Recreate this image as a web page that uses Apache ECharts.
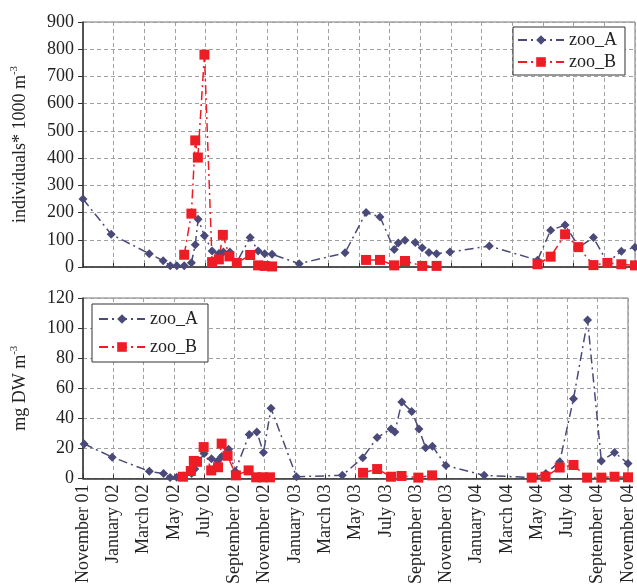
<!DOCTYPE html>
<html lang="en">
<head>
    <meta charset="UTF-8">
    <title>zoo_A / zoo_B</title>
    <script src="https://cdn.jsdelivr.net/npm/echarts/dist/echarts.min.js"></script>
    <style>
        body { margin: 0; padding: 0; background: #ffffff; }
        #chart { width: 637px; height: 587px; }
    </style>
</head>
<body>
    <div id="chart"></div>
    <script>
        // x positions are months counted from November 2001
        const xTickLabels = [
            'November 01', 'January 02', 'March 02', 'May 02', 'July 02', 'September 02',
            'November 02', 'January 03', 'March 03', 'May 03', 'July 03', 'September 03',
            'November 03', 'January 04', 'March 04', 'May 04', 'July 04', 'September 04', 'November 04'
        ];

        // top panel: individuals* 1000 m-3
        const topAMonths = [0, 1.84, 4.32, 5.23, 5.69, 6.12, 6.6, 7.07, 7.32, 7.51, 7.92, 8.42, 8.86, 9.16, 9.58, 10.03,
            10.9, 11.42, 11.85, 12.33, 14.1, 17.09, 18.46, 19.37, 20.3, 20.56, 21.0, 21.67, 22.12, 22.56, 23.06, 23.93,
            26.5, 29.64, 30.5, 31.44, 32.35, 33.29, 34.2, 35.11, 36];
        const topAValues = [250, 120, 49, 23, 5, 5, 5, 16, 82, 175, 115, 59, 50, 55, 55, 18,
            108, 59, 49, 47, 12, 52, 200, 184, 64, 88, 98, 90, 71, 53, 49, 55,
            77, 25, 135, 154, 73, 108, 16, 58, 73];

        const topBMonths = [6.6, 7.07, 7.32, 7.49, 7.92, 8.42, 8.86, 9.12, 9.55, 10.03, 10.9, 11.42, 11.85, 12.33,
            15, 18.46, 19.37, 20.3, 21.0, 22.12, 23.06,
            26, 29.64, 30.5, 31.44, 32.3, 33.29, 34.2, 35.11, 36];
        const topBValues = [45, 196, 465, 402, 780, 18, 28, 118, 39, 15, 44, 6, 4, 2,
            null, 26, 26, 6, 22, 4, 4,
            null, 10, 38, 120, 73, 7, 15, 10, 6];

        // bottom panel: mg DW m-3
        const botAMonths = [0.08, 1.93, 4.38, 5.32, 5.75, 6.19, 6.66, 7.17, 7.38, 8.0, 8.49, 8.9, 9.16, 9.62, 10.05,
            10.98, 11.48, 11.92, 12.42, 14.1, 17.13, 18.48, 19.43, 20.35, 20.6, 21.06, 21.71, 22.19, 22.63, 23.08, 23.97,
            26.5, 29.68, 30.57, 31.49, 32.4, 33.33, 34.24, 35.11, 36];
        const botAValues = [23, 14.2, 4.8, 3.3, 0.6, 0.8, 1.7, 3.3, 6.3, 16.7, 13.2, 11.7, 14.6, 19.5, 4.8,
            29.3, 31, 17.3, 46.7, 1.2, 2.1, 13.8, 27.2, 33, 31, 50.9, 44.6, 33, 20.5, 21.5, 8.6,
            2.1, 0.6, 3.3, 11.1, 53, 105.3, 11.7, 17.3, 10];

        const botBMonths = [6.6, 7.12, 7.32, 7.53, 7.97, 8.47, 8.92, 9.16, 9.55, 10.1, 10.94, 11.44, 11.88, 12.35,
            15, 18.5, 19.43, 20.35, 21.04, 22.15, 23.06,
            26, 29.64, 30.55, 31.49, 32.4, 33.3, 34.24, 35.11, 36];
        const botBValues = [1.2, 5, 11.7, 11.1, 20.9, 5.4, 7.5, 23.2, 15.1, 2.1, 5.4, 0.8, 0.8, 0.8,
            null, 3.8, 6.3, 1.2, 1.7, 0.6, 2.1,
            null, 0.6, 1.2, 7.3, 9, 0.6, 0.6, 1.2, 0.8];

        const colorA = '#4a4a7a';
        const colorB = '#ee1c25';
        const dashDot = [9, 4, 2, 4];
        const font = '"Liberation Serif", "Times New Roman", serif';

        function pairs(xs, ys) {
            return xs.map((x, i) => [x, ys[i] === null ? '-' : ys[i]]);
        }

        function xAxisFor(gridIndex, showLabels) {
            return {
                type: 'value',
                gridIndex: gridIndex,
                min: 0,
                max: 36,
                interval: 2,
                axisLine: { show: true, lineStyle: { color: '#333', width: 1.5 } },
                axisTick: { show: true, inside: true, length: 4, lineStyle: { color: '#333' } },
                splitLine: { show: true, lineStyle: { color: '#a0a0a0', type: [4, 3] } },
                axisLabel: {
                    show: showLabels,
                    rotate: 90,
                    margin: 6,
                    fontFamily: font,
                    fontSize: 18,
                    color: '#222',
                    showMinLabel: true,
                    showMaxLabel: true,
                    hideOverlap: false,
                    formatter: function (v) { return xTickLabels[Math.round(v / 2)]; }
                }
            };
        }

        function yAxisFor(gridIndex, max, interval, nameMain) {
            return {
                type: 'value',
                gridIndex: gridIndex,
                min: 0,
                max: max,
                interval: interval,
                name: '{a|' + nameMain + '}{s|-3}',
                nameLocation: 'middle',
                nameRotate: 90,
                nameGap: 52,
                nameTextStyle: {
                    rich: {
                        a: { fontFamily: font, fontSize: 18, color: '#222', lineHeight: 22 },
                        s: { fontFamily: font, fontSize: 11, color: '#222', lineHeight: 11, verticalAlign: 'top' }
                    }
                },
                axisLine: { show: true, lineStyle: { color: '#333', width: 1.5 } },
                axisTick: { show: true, length: 5, lineStyle: { color: '#333' } },
                splitLine: { show: true, lineStyle: { color: '#a0a0a0', type: [4, 3] } },
                axisLabel: { fontFamily: font, fontSize: 18, color: '#222', margin: 9 }
            };
        }

        function lineSeries(name, idx, data, color, symbol, size) {
            return {
                name: name,
                type: 'line',
                xAxisIndex: idx,
                yAxisIndex: idx,
                data: data,
                symbol: symbol,
                symbolSize: size,
                connectNulls: false,
                itemStyle: { color: color },
                lineStyle: { color: color, width: 1.5, type: dashDot },
                animation: false
            };
        }

        const chart = echarts.init(document.getElementById('chart'));
        chart.setOption({
            backgroundColor: '#ffffff',
            animation: false,
            grid: [
                { left: 83, right: 2, top: 22, height: 245, show: true, borderColor: '#777', borderWidth: 1 },
                { left: 83, right: 2, top: 298, height: 191, show: true, borderColor: '#777', borderWidth: 1 }
            ],
            legend: [
                {
                    data: ['zoo_A', 'zoo_B'],
                    orient: 'vertical',
                    left: 513,
                    top: 27,
                    itemWidth: 46,
                    itemHeight: 12,
                    itemGap: 4,
                    padding: [4, 8, 4, 4],
                    borderColor: '#333',
                    borderWidth: 1,
                    backgroundColor: '#ffffff',
                    textStyle: { fontFamily: font, fontSize: 18, color: '#222' }
                },
                {
                    data: ['zoo_A', 'zoo_B'],
                    orient: 'vertical',
                    left: 92,
                    top: 304,
                    itemWidth: 46,
                    itemHeight: 12,
                    itemGap: 10,
                    padding: [6, 10, 6, 6],
                    borderColor: '#333',
                    borderWidth: 1,
                    backgroundColor: '#ffffff',
                    textStyle: { fontFamily: font, fontSize: 18, color: '#222' }
                }
            ],
            xAxis: [xAxisFor(0, false), xAxisFor(1, true)],
            yAxis: [
                yAxisFor(0, 900, 100, 'individuals* 1000 m'),
                yAxisFor(1, 120, 20, 'mg DW m')
            ],
            series: [
                lineSeries('zoo_A', 0, pairs(topAMonths, topAValues), colorA, 'diamond', 9),
                lineSeries('zoo_B', 0, pairs(topBMonths, topBValues), colorB, 'rect', 10),
                lineSeries('zoo_A', 1, pairs(botAMonths, botAValues), colorA, 'diamond', 9),
                lineSeries('zoo_B', 1, pairs(botBMonths, botBValues), colorB, 'rect', 10)
            ]
        });
    </script>
</body>
</html>
